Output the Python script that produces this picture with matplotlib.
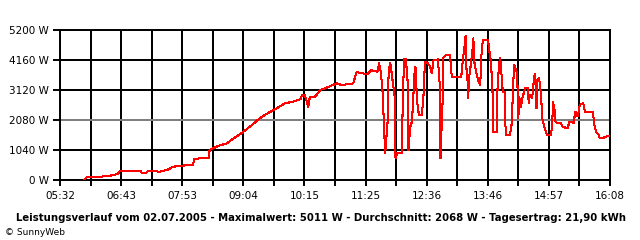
import matplotlib
matplotlib.use("Agg")
import matplotlib.pyplot as plt

# Leistungsverlauf 02.07.2005 (Uhrzeit, Leistung in W)
times = [
    "06:00", "06:03", "06:12", "06:18", "06:30", "06:36", "06:40", "06:41",
    "07:05", "07:07", "07:11", "07:14", "07:28", "07:36", "07:43", "07:54",
    "08:06", "08:07", "08:14", "08:24", "08:25", "08:35", "08:45", "08:51",
    "09:04", "09:14", "09:23", "09:32", "09:43", "09:52", "10:01", "10:10",
    "10:12", "10:15", "10:18", "10:19", "10:21", "10:27", "10:33", "10:41",
    "10:52", "10:58", "11:11", "11:15", "11:22", "11:27", "11:32", "11:39",
    "11:41", "11:43", "11:45", "11:48", "11:49", "11:51", "11:51", "11:53",
    "11:54", "11:57", "11:59", "12:00", "12:02", "12:07", "12:09", "12:10",
    "12:12", "12:14", "12:15", "12:17", "12:19", "12:22", "12:23", "12:25",
    "12:27", "12:30", "12:32", "12:34", "12:37", "12:40", "12:42", "12:44",
    "12:49", "12:51", "12:51", "12:52", "12:53", "12:55", "12:55", "12:58",
    "13:03", "13:05", "13:16", "13:18", "13:20", "13:21", "13:22", "13:24",
    "13:24", "13:25", "13:27", "13:29", "13:30", "13:31", "13:34", "13:36",
    "13:38", "13:39", "13:41", "13:47", "13:48", "13:50", "13:52", "13:53",
    "13:57", "13:58", "14:00", "14:01", "14:02", "14:04", "14:06", "14:07",
    "14:08", "14:12", "14:14", "14:15", "14:17", "14:18", "14:20", "14:21",
    "14:22", "14:23", "14:25", "14:27", "14:30", "14:33", "14:34", "14:35",
    "14:38", "14:40", "14:41", "14:42", "14:43", "14:44", "14:46", "14:48",
    "14:50", "14:52", "14:55", "15:00", "15:02", "15:02", "15:04", "15:05",
    "15:07", "15:11", "15:13", "15:19", "15:21", "15:25", "15:26", "15:27",
    "15:28", "15:30", "15:31", "15:33", "15:37", "15:39", "15:48", "15:50",
    "15:52", "15:55", "15:56", "16:00", "16:02", "16:08",
]
watts = [
    0, 90, 90, 110, 150, 185, 240, 310,
    310, 230, 230, 310, 290, 350, 460, 500,
    520, 730, 750, 750, 1040, 1180, 1270, 1410,
    1670, 1910, 2140, 2310, 2490, 2660, 2710, 2800,
    2950, 2950, 2660, 2540, 2890, 2890, 3120, 3210,
    3350, 3290, 3350, 3740, 3700, 3660, 3810, 3750,
    4050, 3750, 3060, 930, 1330, 2080, 3230, 3930,
    4050, 3350, 2890, 750, 930, 930, 3410, 4180,
    4180, 3410, 1040, 1850, 2020, 3700, 3930, 2710,
    2250, 2250, 2710, 4100, 4050, 3930, 3700, 4160,
    4180, 3350, 1620, 750, 1620, 3190, 4220, 4330,
    4330, 3580, 3580, 4220, 4680, 5010, 3870, 3180,
    2830, 3530, 3990, 4510, 4910, 4100, 3640, 3410,
    3290, 4220, 4870, 4870, 4570, 4160, 3290, 1670,
    1670, 3290, 4090, 4220, 3870, 3060, 3060, 1910,
    1560, 1560, 1840, 2490, 3990, 3930, 3750, 3290,
    2140, 2890, 2540, 2890, 3180, 3180, 2660, 2950,
    2840, 3470, 3660, 3350, 2490, 3470, 3530, 3010,
    2080, 1850, 1560, 1560, 2430, 2710, 2430, 2020,
    1970, 1970, 1850, 1790, 2020, 2020, 1970, 2190,
    2370, 2230, 2230, 2600, 2660, 2370, 2370, 1910,
    1670, 1560, 1450, 1450, 1500, 1530,
]

x_labels = ["05:32", "06:43", "07:53", "09:04", "10:15",
            "11:25", "12:36", "13:46", "14:57", "16:08"]
y_ticks = [0, 1040, 2080, 3120, 4160, 5200]

title = ("Leistungsverlauf vom 02.07.2005 - Maximalwert: 5011 W - "
         "Durchschnitt: 2068 W - Tagesertrag: 21,90 kWh")


def to_min(s):
    h, m = s.split(":")
    return int(h) * 60 + int(m)


x = [to_min(t) for t in times]
x0 = to_min(x_labels[0])
x1 = to_min(x_labels[-1])
step = (x1 - x0) / 18

plt.rcParams["font.family"] = "DejaVu Sans"

fig = plt.figure(figsize=(6.4, 2.4), dpi=100)
ax = fig.add_axes([60 / 640, 60 / 240, 550 / 640, 150 / 240])

# grid
for i in range(19):
    ax.axvline(x0 + i * step, color="black", lw=1.4, antialiased=False, zorder=1)
for v in y_ticks:
    c = "#808080" if v == 2080 else "black"
    ax.axhline(v, color=c, lw=1.4, antialiased=False, zorder=1)

ax.plot(x, watts, color="red", lw=0.75, antialiased=False, zorder=3)

ax.set_xlim(x0, x1)
ax.set_ylim(0, 5200)

ax.set_xticks([x0 + i * step for i in range(19)])
ax.set_xticklabels([x_labels[i // 2] if i % 2 == 0 else "" for i in range(19)])
ax.set_yticks(y_ticks)
ax.set_yticklabels([f"{v} W" for v in y_ticks])
ax.tick_params(axis="x", length=4, width=1.4, pad=4, labelsize=7.5, color="black")
ax.tick_params(axis="y", length=5, width=1.4, pad=3, labelsize=7.5, color="black")

for sp in ax.spines.values():
    sp.set_linewidth(1.4)
    sp.set_color("black")

fig.text(321 / 640, 1 - 221 / 240, title, ha="center", va="baseline",
         fontsize=7.3, fontweight="bold")
fig.text(5 / 640, 1 - 235 / 240, "\u00a9 SunnyWeb", ha="left", va="baseline",
         fontsize=6.5)

fig.savefig("out.png", dpi=100)
